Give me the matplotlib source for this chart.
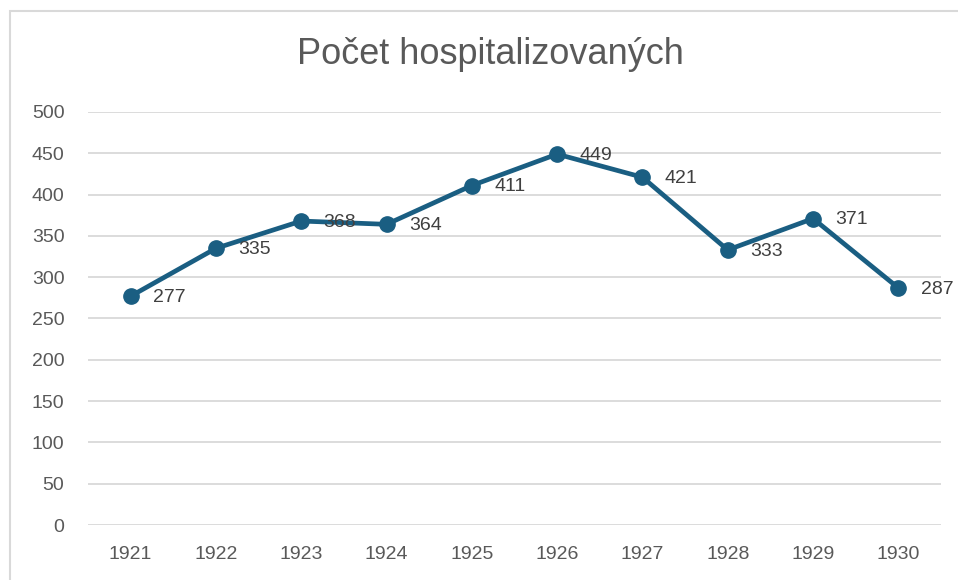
import matplotlib.pyplot as plt
from matplotlib.patches import Rectangle

years = ['1921', '1922', '1923', '1924', '1925', '1926', '1927', '1928', '1929', '1930']
counts = [277, 335, 368, 364, 411, 449, 421, 333, 371, 287]
yticks = [0, 50, 100, 150, 200, 250, 300, 350, 400, 450, 500]

plt.rcParams['font.family'] = ['Liberation Sans', 'DejaVu Sans']

fig = plt.figure(figsize=(9.58, 5.8), dpi=100)
# chart frame (cropped on the right and bottom)
fig.patches.append(Rectangle((10 / 958, -0.1), 1.2, 1 - 11 / 580 + 0.1,
                             transform=fig.transFigure, fill=False,
                             edgecolor='#d9d9d9', linewidth=1.5))

ax = fig.add_axes([88 / 958, 1 - 525 / 580, 853 / 958, 413 / 580])
x = range(len(years))
ax.plot(x, counts, color='#1a5e82', linewidth=3.4, marker='o', markersize=11,
        solid_capstyle='round', zorder=3)
for xi, v in zip(x, counts):
    ax.annotate(str(v), (xi, v), xytext=(16, -1), textcoords='offset points',
                ha='left', va='center', fontsize=14, color='#404040', zorder=4)

ax.set_xlim(-0.5, len(years) - 0.5)
ax.set_ylim(0, 500)
ax.set_yticks(yticks)
ax.set_xticks(list(x))
ax.set_xticklabels(years)
ax.grid(axis='y', color='#d9d9d9', linewidth=1.3)
ax.set_axisbelow(True)
for s in ax.spines.values():
    s.set_visible(False)
ax.tick_params(length=0, labelsize=14, labelcolor='#595959', pad=15)
ax.tick_params(axis='y', pad=17)

fig.text(490 / 958, 1 - 55 / 580, 'Počet hospitalizovaných', ha='center', va='center',
         fontsize=26, color='#595959')

fig.savefig('out.png', dpi=100)
